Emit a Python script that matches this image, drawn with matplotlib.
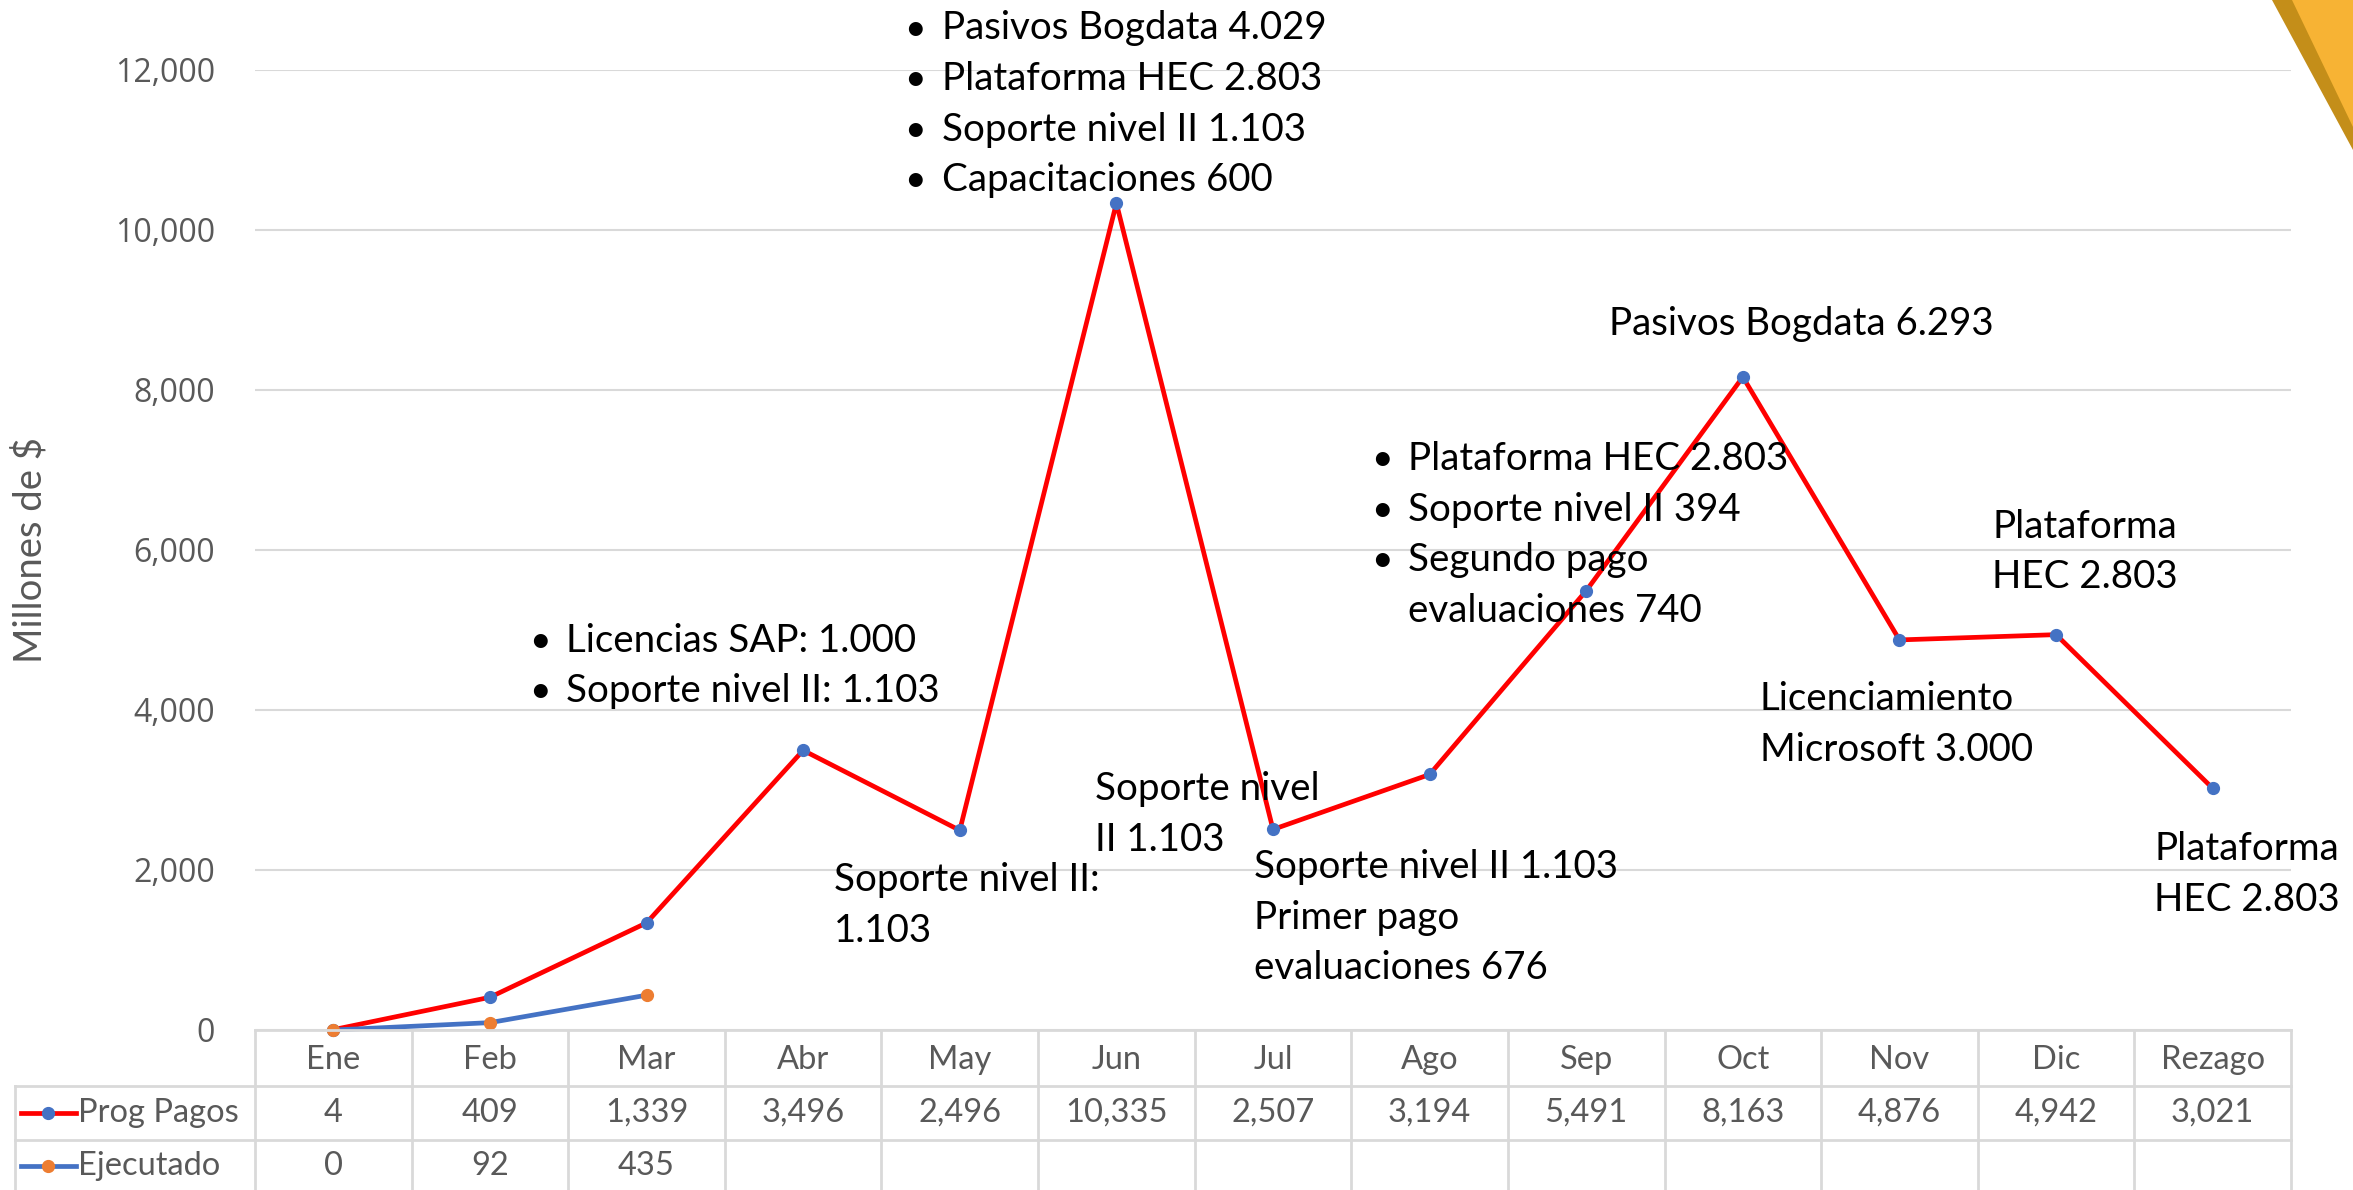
import matplotlib.pyplot as plt
from matplotlib.patches import Polygon
from matplotlib.lines import Line2D

months = ["Ene", "Feb", "Mar", "Abr", "May", "Jun", "Jul", "Ago", "Sep", "Oct", "Nov", "Dic", "Rezago"]
prog_pagos = [4, 409, 1339, 3496, 2496, 10335, 2507, 3194, 5491, 8163, 4876, 4942, 3021]
ejecutado = [0, 92, 435]
yticks = [0, 2000, 4000, 6000, 8000, 10000, 12000]

# annotation blocks: (x, y of first line, lines, bullets) in 1568x793 preview pixels
notes = [
    (357, 427, ["Licencias SAP: 1.000", "Soporte nivel II: 1.103"], True),
    (607, 19, ["Pasivos Bogdata 4.029", "Plataforma HEC 2.803", "Soporte nivel II 1.103", "Capacitaciones 600"], True),
    (556, 587, ["Soporte nivel II:", "1.103"], False),
    (730, 526, ["Soporte nivel", "II 1.103"], False),
    (836, 578, ["Soporte nivel II 1.103", "Primer pago", "evaluaciones 676"], False),
    (918, 306, ["Plataforma HEC 2.803", "Soporte nivel II 394", "Segundo pago", "evaluaciones 740"], [1, 1, 1, 0]),
    (1073, 216, ["Pasivos Bogdata 6.293"], False),
    (1328, 351, ["Plataforma", "HEC 2.803"], False),
    (1173, 466, ["Licenciamiento", "Microsoft 3.000"], False),
    (1436, 566, ["Plataforma", "HEC 2.803"], False),
]

W, H = 2353, 1190
RED = "#FF0000"
BLUE = "#4472C4"
ORANGE = "#ED7D31"
GRAY = "#595959"
GRID = "#D9D9D9"
TXT = ["Lato", "DejaVu Sans"]

fig = plt.figure(figsize=(W / 100, H / 100), dpi=100)

# main plot area, pixel box 255..2291 x 70..1030
L, R, T, B = 255, 2291, 70, 1030
ax = fig.add_axes([L / W, 1 - B / H, (R - L) / W, (B - T) / H])
x = list(range(len(months)))
ax.plot(x, prog_pagos, color=RED, lw=3.4, marker="o", ms=8.5, mfc=BLUE, mec=BLUE, zorder=3)
ax.plot(x[:len(ejecutado)], ejecutado, color=BLUE, lw=3.4, marker="o", ms=8.5, mfc=ORANGE, mec=ORANGE, zorder=4)
ax.set_xlim(-0.5, len(months) - 0.5)
ax.set_ylim(0, 12000)
ax.set_yticks(yticks)
ax.set_yticklabels([f"{v:,}" for v in yticks], fontsize=23, color=GRAY, family="Open Sans")
ax.set_xticks([])
ax.tick_params(axis="y", length=0, pad=29)
ax.grid(axis="y", color=GRID, lw=1.5)
ax.set_axisbelow(True)
for s in ax.spines.values():
    s.set_visible(False)
for clip in ax.lines:
    clip.set_clip_on(False)
fig.text(30 / W, 1 - 550 / H, "Millones de $", rotation=90, ha="center", va="center",
         fontsize=27.5, color=GRAY, family=TXT)

# data table under the axis
unit = (R - L) / len(months)
tax = fig.add_axes([0, 0, R / W, (H - B) / H])
tax.set_xlim(-0.5 - L / unit, len(months) - 0.5)
tax.set_ylim(H, B)
tax.axis("off")
left = -0.5 - L / unit + 15 / unit
rows = [B, 1086, 1140, H + 60]
lk = dict(color=GRID, lw=2, clip_on=False)
tax.plot([-0.5, len(months) - 0.5], [rows[0]] * 2, **lk)
for r in rows[1:3]:
    tax.plot([left, len(months) - 0.5], [r] * 2, **lk)
for i in range(len(months) + 1):
    tax.plot([i - 0.5] * 2, [rows[0], rows[3]], **lk)
tax.plot([left] * 2, [rows[1], rows[3]], **lk)
tk = dict(ha="center", va="center", fontsize=23.5, color=GRAY, family=TXT)
for i, m in enumerate(months):
    tax.text(i, 1060, m, **tk)
for i, v in enumerate(prog_pagos):
    tax.text(i, 1113, f"{v:,}", **tk)
for i, v in enumerate(ejecutado):
    tax.text(i, 1166, f"{v:,}", **tk)
for yc, lc, mc, name in [(1113, RED, BLUE, "Prog Pagos"), (1166, BLUE, ORANGE, "Ejecutado")]:
    kx = left + 6 / unit
    tax.add_line(Line2D([kx, kx + 55 / unit], [yc, yc], color=lc, lw=3.4))
    tax.plot([kx + 27 / unit], [yc], "o", ms=8.5, color=mc)
    tax.text(kx + 57 / unit, yc, name, ha="left", va="center", fontsize=23.5, color=GRAY, family=TXT)

# annotations
for nx, ny, lines, bullets in notes:
    if not isinstance(bullets, list):
        bullets = [bullets] * len(lines)
    for k, line in enumerate(lines):
        yy = (ny + k * 33.7) * 1.5
        tx = nx * 1.5
        if any(bullets):
            if bullets[k]:
                fig.text((tx - 6) / W, 1 - yy / H, "•", ha="left", va="center", fontsize=27, color="black", family=TXT)
            tx += 31
        fig.text(tx / W, 1 - yy / H, line, ha="left", va="center", fontsize=27.7, color="black", family=TXT)

# decorative corner triangle
fig.patches.append(Polygon([[2272 / W, 1], [1, 1], [1, 1 - 150 / H]], closed=True,
                           transform=fig.transFigure, facecolor="#C48E19", edgecolor="none"))
fig.patches.append(Polygon([[2292 / W, 1], [1, 1], [1, 1 - 127 / H]], closed=True,
                           transform=fig.transFigure, facecolor="#F7B334", edgecolor="none"))

fig.savefig("out.png", dpi=100)
